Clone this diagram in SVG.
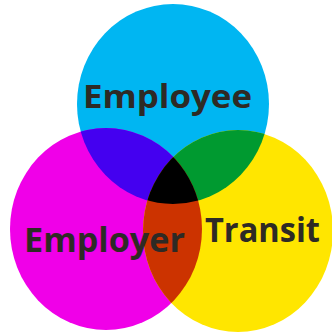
<svg xmlns="http://www.w3.org/2000/svg" width="332" height="334" viewBox="0 0 332 334">
<defs>
<style>
.lbl{font-family:"Open Sans","Lato","Liberation Sans",sans-serif;font-weight:bold;fill:#2e2a25}
</style>
<clipPath id="cC"><ellipse cx="173" cy="104" rx="96" ry="100"/></clipPath>
<clipPath id="cM"><ellipse cx="106" cy="229" rx="96" ry="101"/></clipPath>
<clipPath id="cMC" clip-path="url(#cC)"><ellipse cx="106" cy="229" rx="96" ry="101"/></clipPath>
</defs>
<rect width="332" height="334" fill="#ffffff"/>
<g id="employee"><ellipse cx="173" cy="104" rx="96" ry="100" fill="#00b6f2"/></g>
<g id="employer"><ellipse cx="106" cy="229" rx="96" ry="101" fill="#f000e8"/></g>
<g id="transit"><ellipse cx="238" cy="231" rx="95" ry="101" fill="#ffe600"/></g>
<g id="overlaps">
<ellipse cx="106" cy="229" rx="96" ry="101" fill="#4400f0" clip-path="url(#cC)"/>
<ellipse cx="238" cy="231" rx="95" ry="101" fill="#009a30" clip-path="url(#cC)"/>
<ellipse cx="238" cy="231" rx="95" ry="101" fill="#cc3300" clip-path="url(#cM)"/>
<ellipse cx="238" cy="231" rx="95" ry="101" fill="#000000" clip-path="url(#cMC)"/>
</g>
<g id="labels">
<text class="lbl" x="83" y="108" font-size="32" textLength="169" lengthAdjust="spacingAndGlyphs">Employee</text>
<text class="lbl" x="24" y="252" font-size="34" textLength="161" lengthAdjust="spacingAndGlyphs">Employer</text>
<text class="lbl" x="205" y="242" font-size="34" textLength="115" lengthAdjust="spacingAndGlyphs">Transit</text>
</g>
</svg>
